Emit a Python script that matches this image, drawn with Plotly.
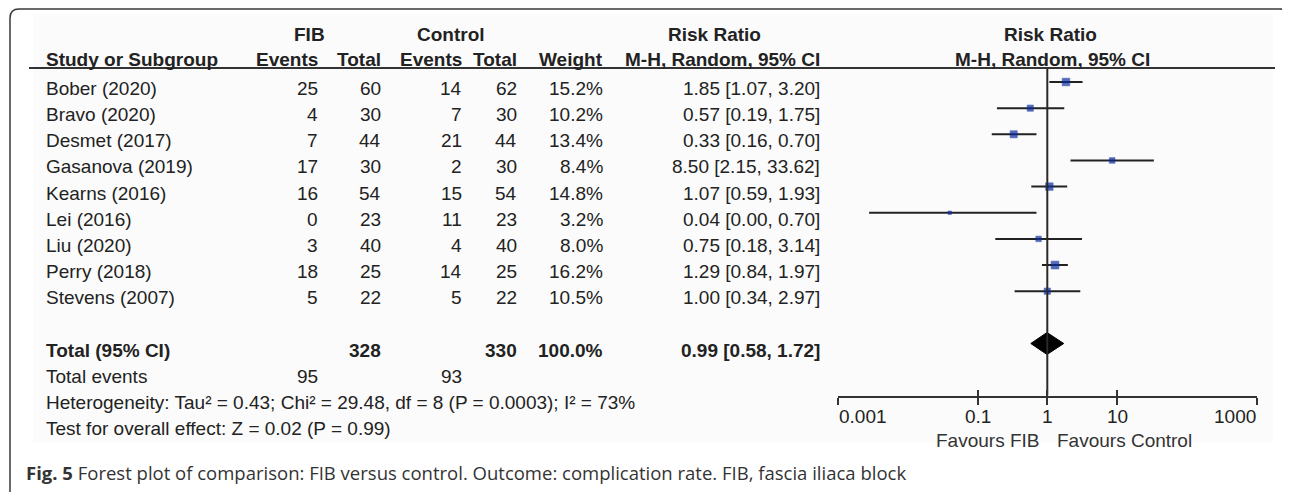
import math
import plotly.graph_objects as go

# ---------------- data ----------------
studies = ["Bober (2020)", "Bravo (2020)", "Desmet (2017)", "Gasanova (2019)", "Kearns (2016)",
           "Lei (2016)", "Liu (2020)", "Perry (2018)", "Stevens (2007)"]
fib_events = [25, 4, 7, 17, 16, 0, 3, 18, 5]
fib_total = [60, 30, 44, 30, 54, 23, 40, 25, 22]
ctl_events = [14, 7, 21, 2, 15, 11, 4, 14, 5]
ctl_total = [62, 30, 44, 30, 54, 23, 40, 25, 22]
weights = [15.2, 10.2, 13.4, 8.4, 14.8, 3.2, 8.0, 16.2, 10.5]
rr = [1.85, 0.57, 0.33, 8.50, 1.07, 0.04, 0.75, 1.29, 1.00]
rr_lo = [1.07, 0.19, 0.16, 2.15, 0.59, 0.0028, 0.18, 0.84, 0.34]
rr_hi = [3.20, 1.75, 0.70, 33.62, 1.93, 0.70, 3.14, 1.97, 2.97]

total_fib = 328
total_ctl = 330
total_weight = 100.0
total_events_fib = 95
total_events_ctl = 93
pooled_rr = 0.99
pooled_lo = 0.58
pooled_hi = 1.72

heterogeneity = "Heterogeneity: Tau² = 0.43; Chi² = 29.48, df = 8 (P = 0.0003); I² = 73%"
overall_test = "Test for overall effect: Z = 0.02 (P = 0.99)"
axis_ticks = [0.001, 0.1, 1, 10, 1000]
axis_tick_labels = ["0.001", "0.1", "1", "10", "1000"]
null_rr = 1
caption_bold = "Fig. 5"
caption_text = "Forest plot of comparison: FIB versus control. Outcome: complication rate. FIB, fascia iliaca block"

# ---------------- layout helpers ----------------
# the page body has an 8px margin, so the figure is drawn 8px in from the top-left
OFF = 8
W, H = 1290 - OFF, 492 - OFF
def px(x):
    return (x - OFF) / W
def py(y):
    return 1 - (y - OFF) / H

ROW0 = 82.0      # pixel y of first forest row
DY = 26.15       # row pitch
TXT_OFF = 6.5    # text centre offset below forest row
AX_BOTTOM = 395.5
AX_TOP = 68.0

def text_y(i):
    return ROW0 + TXT_OFF + DY * i

FONT = "Liberation Sans, Arial, sans-serif"
FS = 19
TXT = "#222222"
LINE = "#333333"

fig = go.Figure()

# ---------------- forest marks ----------------
n = len(studies)
rows = list(range(n))

cx, cy = [], []
for i in rows:
    cx += [rr_lo[i], rr_hi[i], None]
    cy += [i, i, None]
fig.add_trace(go.Scatter(x=cx, y=cy, mode="lines", line=dict(color="#222222", width=2),
                         hoverinfo="skip", showlegend=False))

fig.add_trace(go.Scatter(x=[null_rr, null_rr], y=[(AX_TOP - ROW0) / DY, (AX_BOTTOM - ROW0) / DY],
                         mode="lines", line=dict(color="#2a2a2a", width=2),
                         xaxis="x2", yaxis="y", hoverinfo="skip", showlegend=False))

fig.add_trace(go.Scatter(x=rr, y=rows, mode="markers",
                         marker=dict(symbol="square", color="#0b2c9e",
                                     size=[1.95 * math.sqrt(w) for w in weights],
                                     line=dict(width=0.6, color="#0b2c9e")),
                         hoverinfo="skip", showlegend=False))

drow = n + 1
dh = 11.0 / DY
fig.add_trace(go.Scatter(x=[pooled_lo, pooled_rr, pooled_hi, pooled_rr, pooled_lo],
                         y=[drow, drow - dh, drow, drow + dh, drow],
                         mode="lines", fill="toself", fillcolor="#000000",
                         line=dict(color="#000000", width=1), hoverinfo="skip", showlegend=False))

# ---------------- axes ----------------
y_range = [(AX_BOTTOM - ROW0) / DY, (AX_TOP - ROW0) / DY]
x_dom = [px(837.9), px(1256.7)]
fig.update_layout(
    width=W, height=H, margin=dict(l=0, r=0, t=0, b=0),
    paper_bgcolor="white", plot_bgcolor="rgba(0,0,0,0)",
    xaxis=dict(type="log", range=[-3, 3], domain=x_dom, showline=True, linewidth=2, linecolor=LINE,
               ticks="outside", ticklen=7, tickwidth=2, tickcolor=LINE, tickvals=axis_ticks,
               showticklabels=False, showgrid=False, zeroline=False, fixedrange=True),
    xaxis2=dict(type="log", range=[-3, 3], overlaying="x", anchor="y", side="bottom",
                ticks="inside", ticklen=6, tickwidth=2, tickcolor=LINE, tickvals=axis_ticks,
                showticklabels=False, showline=False, showgrid=False, zeroline=False, fixedrange=True),
    yaxis=dict(range=y_range, domain=[py(AX_BOTTOM), py(AX_TOP)], visible=False, fixedrange=True),
)

ann = []
PADX = 1.0
def add_text(x, y, text, anchor="left", bold=False, size=FS, color=TXT, family=FONT):
    t = f"<b>{text}</b>" if bold else text
    if anchor == "left":
        x -= PADX
    elif anchor == "right":
        x += PADX
    ann.append(dict(x=px(x), y=py(y), xref="paper", yref="paper", text=t, showarrow=False,
                    xanchor=anchor, yanchor="middle", borderpad=0,
                    font=dict(family=family, size=size, color=color)))

# headers
H1, H2 = 34, 60
add_text(309, H1, "FIB", "center", True)
add_text(451, H1, "Control", "center", True)
add_text(714, H1, "Risk Ratio", "center", True)
add_text(1050, H1, "Risk Ratio", "center", True)
add_text(46, H2, "Study or Subgroup", "left", True)
col_r = [318, 381, 462, 517, 603, 820]
for xr, lab in zip(col_r, ["Events", "Total", "Events", "Total", "Weight", "M-H, Random, 95% CI"]):
    add_text(xr, H2, lab, "right", True)
add_text(1052, H2, "M-H, Random, 95% CI", "center", True)

# study rows
for i in rows:
    y = text_y(i)
    add_text(46, y, studies[i])
    vals = [str(fib_events[i]), str(fib_total[i]), str(ctl_events[i]), str(ctl_total[i]),
            f"{weights[i]:.1f}%", f"{rr[i]:.2f} [{rr_lo[i]:.2f}, {rr_hi[i]:.2f}]"]
    for xr, v in zip(col_r, vals):
        add_text(xr, y, v, "right")

# total row
yt = text_y(n + 1)
add_text(46, yt, "Total (95% CI)", "left", True)
add_text(col_r[1], yt, str(total_fib), "right", True)
add_text(col_r[3], yt, str(total_ctl), "right", True)
add_text(col_r[4], yt, f"{total_weight:.1f}%", "right", True)
add_text(col_r[5], yt, f"{pooled_rr:.2f} [{pooled_lo:.2f}, {pooled_hi:.2f}]", "right", True)

ye = text_y(n + 2)
add_text(46, ye, "Total events")
add_text(col_r[0], ye, str(total_events_fib), "right")
add_text(col_r[2], ye, str(total_events_ctl), "right")
add_text(46, text_y(n + 3), heterogeneity)
add_text(46, text_y(n + 4), overall_test)

# axis tick labels (placed through the log axis)
for k, (v, lab) in enumerate(zip(axis_ticks, axis_tick_labels)):
    anchor = "left" if k == 0 else ("right" if k == len(axis_ticks) - 1 else "center")
    ann.append(dict(x=math.log10(v), y=py(416), xref="x", yref="paper", text=lab, showarrow=False,
                    xanchor=anchor, yanchor="middle", borderpad=0,
                    font=dict(family=FONT, size=FS, color=TXT)))
add_text(1039, 440, "Favours FIB", "right", color="#333333")
add_text(1057, 440, "Favours Control", "left", color="#333333")

# caption
ann.append(dict(x=px(25), y=py(472), xref="paper", yref="paper",
                text=f"<b>{caption_bold}</b> {caption_text}", showarrow=False,
                xanchor="left", yanchor="middle", borderpad=0,
                font=dict(family="Open Sans, sans-serif", size=18.5, color="#333333")))

fig.update_layout(annotations=ann)

def pp(x, y):
    return f"{px(x):.6f},{py(y):.6f}"

shapes = [
    dict(type="rect", xref="paper", yref="paper", x0=px(33), x1=px(1273), y0=py(443), y1=py(14),
         fillcolor="#fbfbfb", line=dict(width=0), layer="below"),
    dict(type="line", xref="paper", yref="paper", x0=px(29), x1=px(1275), y0=py(AX_TOP), y1=py(AX_TOP),
         line=dict(color=LINE, width=1.8)),
    dict(type="path", xref="paper", yref="paper",
         path=(f"M {pp(10, 500)} L {pp(10, 18)} Q {pp(10, 9)} {pp(19, 9)} "
               f"L {pp(1280, 9)} Q {pp(1289, 9)} {pp(1289, 18)} L {pp(1289, 500)}"),
         line=dict(color="#3a3a3a", width=1.5)),
]
fig.update_layout(shapes=shapes)

fig.write_html("out.html")
